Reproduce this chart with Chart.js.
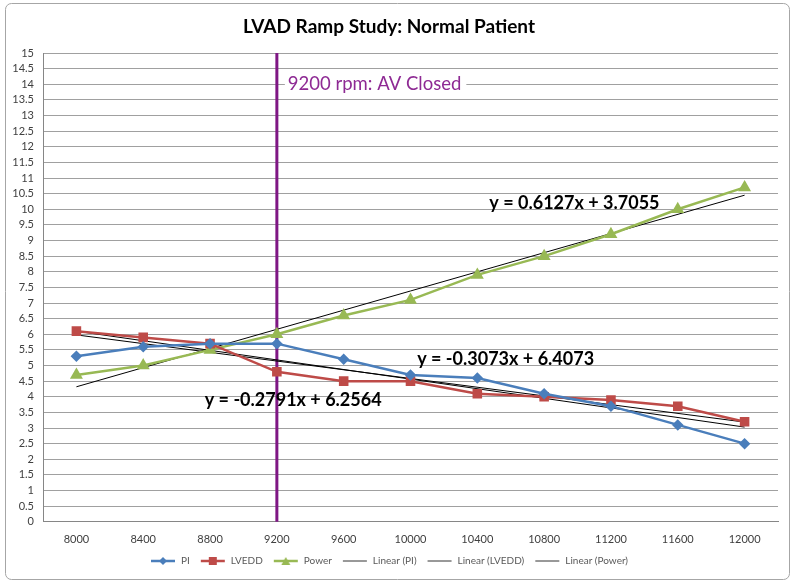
<!DOCTYPE html>
<html>
<head>
<meta charset="utf-8">
<script src="https://cdn.jsdelivr.net/npm/chart.js@4/dist/chart.umd.min.js"></script>
<style>
  html, body { margin: 0; padding: 0; background: #fff; }
  #wrap { width: 795px; height: 584px; position: relative; }
</style>
</head>
<body>
<div id="wrap"><canvas id="myChart1" width="795" height="584"></canvas></div>
<script>
// rpm steps
var rpm = ["8000", "8400", "8800", "9200", "9600", "10000", "10400", "10800", "11200", "11600", "12000"];
var pi = [5.3, 5.6, 5.7, 5.7, 5.2, 4.7, 4.6, 4.1, 3.7, 3.1, 2.5];
var lvedd = [6.1, 5.9, 5.7, 4.8, 4.5, 4.5, 4.1, 4.0, 3.9, 3.7, 3.2];
var power = [4.7, 5.0, 5.5, 6.0, 6.6, 7.1, 7.9, 8.5, 9.2, 10.0, 10.7];
// trendline ends (first and last rpm)
var trendPI = [6.10, null, null, null, null, null, null, null, null, null, 3.03];
var trendLVEDD = [5.98, null, null, null, null, null, null, null, null, null, 3.19];
var trendPower = [4.32, null, null, null, null, null, null, null, null, null, 10.45];
var yTicks = [0, 0.5, 1, 1.5, 2, 2.5, 3, 3.5, 4, 4.5, 5, 5.5, 6, 6.5, 7, 7.5, 8, 8.5, 9, 9.5, 10, 10.5, 11, 11.5, 12, 12.5, 13, 13.5, 14, 14.5, 15];
// equation labels: [text, category index, y value]
var equations = [
	["y = 0.6127x + 3.7055", 6.18, 10.2],
	["y = -0.3073x + 6.4073", 5.1, 5.2],
	["y = -0.2791x + 6.2564", 1.92, 3.9]
];
var markerLine = "9200";
var markerText = "9200 rpm: AV Closed";

var FONT = "Lato, 'Open Sans', sans-serif";

// legend icon: short line with marker in the middle
function legendIcon(color, style, lw) {
	var c = document.createElement("canvas");
	c.width = 26; c.height = 12;
	var g = c.getContext("2d");
	g.strokeStyle = color; g.fillStyle = color; g.lineWidth = lw;
	g.beginPath(); g.moveTo(1, 6); g.lineTo(25, 6); g.stroke();
	g.beginPath();
	if (style === "rectRot") {
		g.moveTo(13, 2); g.lineTo(17, 6); g.lineTo(13, 10); g.lineTo(9, 6);
	} else if (style === "rect") {
		g.rect(9, 2, 8, 8);
	} else if (style === "triangle") {
		g.moveTo(13, 2); g.lineTo(17.5, 10); g.lineTo(8.5, 10);
	}
	g.closePath(); g.fill();
	return c;
}

var bgPlugin = {
	id: "bg",
	beforeDraw: function(chart) {
		var ctx = chart.ctx;
		ctx.save();
		ctx.fillStyle = "#fff";
		ctx.fillRect(0, 0, chart.width, chart.height);
		ctx.strokeStyle = "#a6a6a6";
		ctx.lineWidth = 1;
		ctx.beginPath();
		ctx.roundRect(5.5, 3.5, 784, 576, 6);
		ctx.stroke();
		ctx.restore();
	},
	// legend sits a bit higher than chart.js puts it
	afterLayout: function(chart) {
		if (chart.legend) {
			chart.legend.top -= 8;
			chart.legend.bottom -= 8;
		}
	}
};

var markerPlugin = {
	id: "marker",
	beforeDatasetsDraw: function(chart) {
		var ctx = chart.ctx, x = chart.scales.x, y = chart.scales.y;
		var px = x.getPixelForValue(rpm.indexOf(markerLine));
		ctx.save();
		ctx.strokeStyle = "#7f1784";
		ctx.lineWidth = 3;
		ctx.beginPath();
		ctx.moveTo(px, y.getPixelForValue(15));
		ctx.lineTo(px, y.getPixelForValue(0));
		ctx.stroke();
		ctx.font = "18.5px " + FONT;
		ctx.textBaseline = "middle";
		var w = ctx.measureText(markerText).width;
		var ty = y.getPixelForValue(14);
		ctx.fillStyle = "#fff";
		ctx.fillRect(px + 8, ty - 10, w + 8, 20);
		ctx.fillStyle = "#8e2a94";
		ctx.fillText(markerText, px + 11, ty);
		ctx.restore();
	},
	afterDatasetsDraw: function(chart) {
		var ctx = chart.ctx, x = chart.scales.x, y = chart.scales.y;
		ctx.save();
		ctx.font = "bold 18px " + FONT;
		ctx.fillStyle = "#000";
		ctx.textBaseline = "middle";
		equations.forEach(function(e) {
			ctx.fillText(e[0], x.getPixelForValue(e[1]), y.getPixelForValue(e[2]));
		});
		ctx.restore();
	}
};

var ctx = document.getElementById("myChart1").getContext("2d");
window.myLine = new Chart(ctx, {
	type: "line",
	data: {
		labels: rpm,
		datasets: [
			{ label: "PI", data: pi, borderColor: "#4a7ebb", backgroundColor: "#4a7ebb", borderWidth: 2.5, pointStyle: "rectRot", pointRadius: 4, icon: legendIcon("#4a7ebb", "rectRot", 2.5) },
			{ label: "LVEDD", data: lvedd, borderColor: "#be4b48", backgroundColor: "#be4b48", borderWidth: 2.5, pointStyle: "rect", pointRadius: 5, icon: legendIcon("#be4b48", "rect", 2.5) },
			{ label: "Power", data: power, borderColor: "#98b954", backgroundColor: "#98b954", borderWidth: 2.5, pointStyle: "triangle", pointRadius: 5, icon: legendIcon("#98b954", "triangle", 2.5) },
			{ label: "Linear (PI)", data: trendPI, borderColor: "#000", borderWidth: 1, pointRadius: 0, spanGaps: true, icon: legendIcon("#333", "", 1) },
			{ label: "Linear (LVEDD)", data: trendLVEDD, borderColor: "#000", borderWidth: 1, pointRadius: 0, spanGaps: true, icon: legendIcon("#333", "", 1) },
			{ label: "Linear (Power)", data: trendPower, borderColor: "#000", borderWidth: 1, pointRadius: 0, spanGaps: true, icon: legendIcon("#333", "", 1) }
		]
	},
	options: {
		responsive: false,
		animation: false,
		layout: { padding: { left: 0, right: 17, top: 0, bottom: 0 } },
		plugins: {
			title: {
				display: true,
				text: "LVAD Ramp Study: Normal Patient",
				color: "#000",
				font: { family: FONT, size: 19, weight: "bold" },
				padding: { top: 15.5, bottom: 14.7 }
			},
			legend: {
				position: "bottom",
				labels: {
					usePointStyle: true,
					pointStyleWidth: 26,
					boxHeight: 10,
					padding: 10,
					color: "#595959",
					font: { family: FONT, size: 10 },
					generateLabels: function(chart) {
						return chart.data.datasets.map(function(ds, i) {
							return { text: ds.label, pointStyle: ds.icon, fillStyle: ds.borderColor, strokeStyle: ds.borderColor, lineWidth: 0, datasetIndex: i, fontColor: "#595959" };
						});
					}
				}
			},
			tooltip: { enabled: false }
		},
		scales: {
			x: {
				offset: true,
				grid: { display: false, drawTicks: false },
				border: { color: "#868686" },
				ticks: { color: "#404040", font: { family: FONT, size: 11 }, padding: 11, maxRotation: 0 },
				afterFit: function(scale) { scale.height -= 3; }
			},
			y: {
				min: 0, max: 15,
				afterBuildTicks: function(scale) {
					scale.ticks = yTicks.map(function(v) { return { value: v }; });
				},
				afterFit: function(scale) { scale.width = 43; },
				grid: { color: "#a0a0a0", lineWidth: 1, drawTicks: false },
				border: { color: "#868686" },
				ticks: {
					autoSkip: false,
					color: "#404040", font: { family: FONT, size: 11 }, padding: 9,
					callback: function(v) { return String(v); }
				}
			}
		}
	},
	plugins: [bgPlugin, markerPlugin]
});
</script>
</body>
</html>
